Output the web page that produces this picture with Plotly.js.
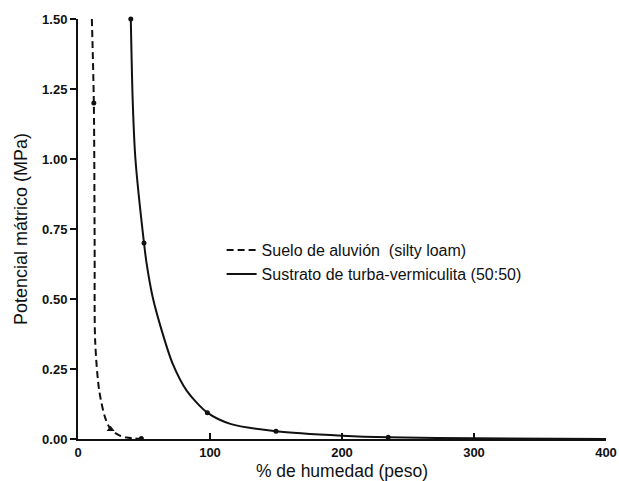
<!DOCTYPE html>
<html>
<head>
<meta charset="utf-8">
<script src="https://cdn.plot.ly/plotly-3.0.1.min.js"></script>
<style>html,body{margin:0;padding:0;background:#fff;}#chart{width:619px;height:481px;}</style>
</head>
<body>
<div id="chart"></div>
<script>
// Curve shapes (x: % humedad, y: MPa)
const sueloCurveX = [10.5, 12, 12.6, 13, 16, 20.5, 24.7, 31, 37, 48];
const sueloCurveY = [1.5, 1.2, 0.7, 0.35, 0.175, 0.077, 0.035, 0.014, 0.005, 0.0];
const sueloPtsX = [12, 48];
const sueloPtsY = [1.2, 0.002];
const sueloTriX = [24.7];
const sueloTriY = [0.035];

const sustratoCurveX = [40, 41.5, 43.5, 50, 52, 56.6, 63.4, 71.7, 82.3, 98, 116, 150, 200, 235, 300, 400];
const sustratoCurveY = [1.5, 1.2, 1.0, 0.70, 0.626, 0.506, 0.388, 0.269, 0.173, 0.094, 0.053, 0.028, 0.012, 0.006, 0.003, 0.0];
const sustratoPtsX = [40, 50, 98, 150, 235];
const sustratoPtsY = [1.5, 0.70, 0.094, 0.028, 0.006];

const legendNames = ['Suelo de aluvión  (silty loam)', 'Sustrato de turba-vermiculita (50:50)'];
const xTicks = [0, 100, 200, 300, 400];
const yTicks = [0, 0.25, 0.5, 0.75, 1.0, 1.25, 1.5];
const yTickText = ['0.00', '0.25', '0.50', '0.75', '1.00', '1.25', '1.50'];

const traces = [
  {x: sueloCurveX, y: sueloCurveY, mode: 'lines', name: legendNames[0],
   line: {color: '#111', width: 2, dash: '7px,4px', shape: 'spline', smoothing: 0.8}},
  {x: sustratoCurveX, y: sustratoCurveY, mode: 'lines', name: legendNames[1],
   line: {color: '#111', width: 2, shape: 'spline', smoothing: 0.8}},
  {x: sueloPtsX, y: sueloPtsY, mode: 'markers', showlegend: false, cliponaxis: false,
   marker: {color: '#111', size: 5, symbol: 'circle'}},
  {x: sueloTriX, y: sueloTriY, mode: 'markers', showlegend: false, cliponaxis: false,
   marker: {color: '#111', size: 7, symbol: 'triangle-up'}},
  {x: sustratoPtsX, y: sustratoPtsY, mode: 'markers', showlegend: false, cliponaxis: false,
   marker: {color: '#111', size: 5, symbol: 'circle'}}
];

const tickFont = {family: 'Liberation Sans, Arial, sans-serif', size: 13, color: '#111', weight: 'bold'};
const layout = {
  width: 619, height: 481,
  margin: {l: 78, r: 13, t: 19, b: 42, pad: 0},
  paper_bgcolor: '#fff', plot_bgcolor: '#fff',
  showlegend: true,
  legend: {x: 0.272, y: 0.49, xanchor: 'left', yanchor: 'top', bgcolor: 'rgba(0,0,0,0)',
           font: {family: 'Liberation Sans, Arial, sans-serif', size: 16, color: '#111'},
           tracegroupgap: 0, itemwidth: 30},
  xaxis: {range: [0, 400], tickvals: xTicks, ticktext: xTicks.map(String), ticks: 'inside',
          ticklen: 6, tickwidth: 2, tickcolor: '#111', showline: true, linecolor: '#111', linewidth: 2,
          showgrid: false, zeroline: false, tickfont: tickFont,
          title: {text: '% de humedad (peso)', standoff: 8,
                  font: {family: 'Liberation Sans, Arial, sans-serif', size: 17.5, color: '#111'}}},
  yaxis: {range: [0, 1.5], tickvals: yTicks, ticktext: yTickText, ticks: 'outside',
          ticklen: 6, tickwidth: 2, tickcolor: '#111', showline: true, linecolor: '#111', linewidth: 2,
          showgrid: false, zeroline: false, tickfont: tickFont,
          title: {text: 'Potencial mátrico (MPa)', standoff: 10,
                  font: {family: 'Liberation Sans, Arial, sans-serif', size: 18, color: '#111'}}}
};

Plotly.newPlot('chart', traces, layout, {displayModeBar: false, staticPlot: true});
</script>
</body>
</html>
